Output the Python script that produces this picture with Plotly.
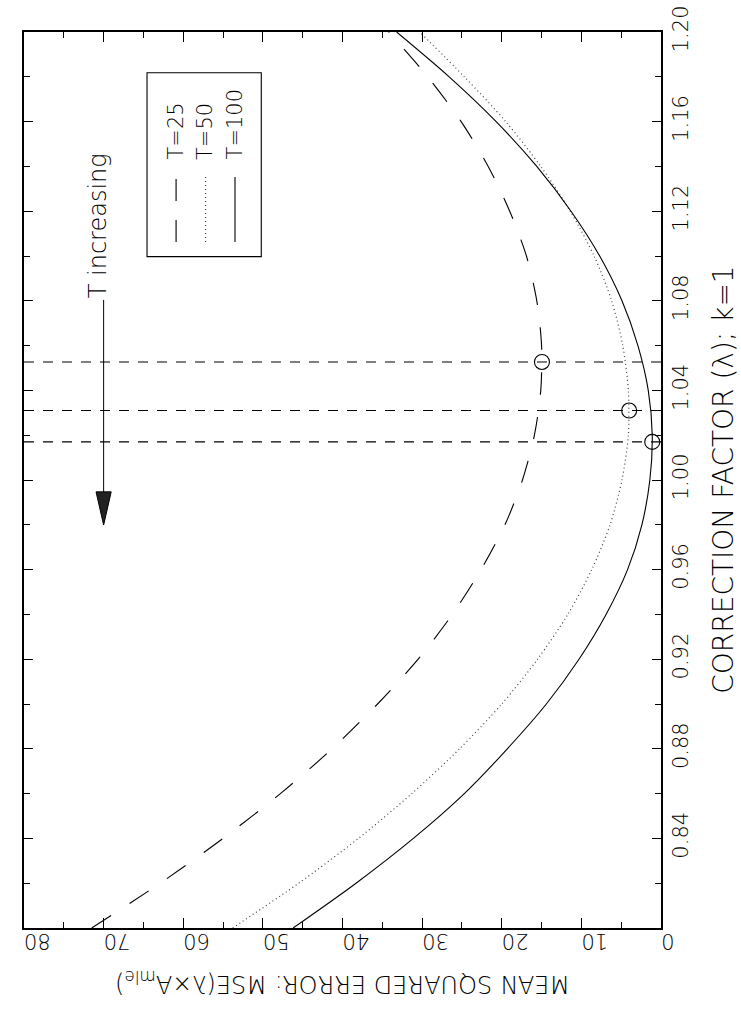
import plotly.graph_objects as go

# correction factor lambda (vertical axis in the picture)
lam = [0.80, 0.82, 0.84, 0.86, 0.88, 0.90, 0.92, 0.94, 0.96, 0.98, 1.00,
       1.02, 1.04, 1.06, 1.08, 1.10, 1.12, 1.14, 1.16, 1.18, 1.20]
# mean squared error
mse_T25 = [71.5, 62.9, 55.0, 47.8, 41.3, 35.6, 30.5, 26.2, 22.6, 19.6, 17.4,
           15.9, 15.1, 15.0, 15.6, 16.9, 19.0, 21.7, 25.1, 29.3, 34.2]
mse_T50 = [53.8, 45.5, 38.0, 31.3, 25.3, 20.0, 15.5, 11.7, 8.7, 6.4, 4.9,
           4.1, 4.1, 4.8, 6.2, 8.4, 11.4, 15.1, 19.5, 24.7, 30.3]
mse_T100 = [46.2, 38.3, 31.1, 24.7, 19.3, 14.4, 10.3, 6.9, 4.2, 2.4, 1.4,
            1.1, 1.6, 2.9, 4.9, 7.7, 11.3, 15.6, 20.7, 26.6, 33.2]
# minima
lam_min = [1.0527, 1.031, 1.017]
mse_min = [14.95, 4.0, 1.1]
series_names = ["T=25", "T=50", "T=100"]

y_ticks = [0.84, 0.88, 0.92, 0.96, 1.00, 1.04, 1.08, 1.12, 1.16, 1.20]
y_ticktext = ["0.84", "0.88", "0.92", "0.96", "1.00", "1.04", "1.08", "1.12", "1.16", "1.20"]
x_ticks = [0, 10, 20, 30, 40, 50, 60, 70, 80]

FONT = "DejaVu Sans"
W = 200
fig = go.Figure()

styles = [dict(dash="23px,22px", color="black", width=1.1),
          dict(dash="1px,3px", color="#444", width=1.2),
          dict(dash="solid", color="black", width=1.1)]

for vals, name, st in zip([mse_T25, mse_T50, mse_T100], series_names, styles):
    fig.add_trace(go.Scatter(x=vals, y=lam, mode="lines", name=name,
                             line=dict(shape="spline", smoothing=0.8, **st),
                             showlegend=False))

# horizontal dashed reference lines at the minima
for lm in lam_min:
    fig.add_trace(go.Scatter(x=[80, 0], y=[lm, lm], mode="lines",
                             line=dict(color="black", width=1.1, dash="10px,9px"),
                             showlegend=False))

fig.add_trace(go.Scatter(x=mse_min, y=lam_min, mode="markers",
                         marker=dict(symbol="circle-open", size=15,
                                     color="black", line=dict(width=1.1)),
                         showlegend=False))

# legend box (rotated)
fig.add_shape(type="rect", x0=64.55, x1=50.2, y0=1.0997, y1=1.1818,
              line=dict(color="black", width=1.1))
leg_x = [60.9, 57.2, 53.5]
for lx, name, st in zip(leg_x, series_names, styles):
    fig.add_shape(type="line", x0=lx, x1=lx, y0=1.1063, y1=1.1353,
                  line=dict(color=st["color"], width=st["width"],
                            dash=("22px,19px" if st["dash"].startswith("23") else st["dash"])))
    fig.add_annotation(x=lx, y=1.142, text=name, textangle=-90, showarrow=False,
                       xanchor="center", yanchor="bottom",
                       font=dict(family=FONT, size=21, color="black", weight=W))

# "T increasing" arrow (shaft + narrow arrowhead)
arr_x, arr_top, arr_tip = 70.0, 1.0804, 0.9799
head_len, head_half = 0.0148, 0.95
fig.add_shape(type="line", x0=arr_x, x1=arr_x, y0=arr_top, y1=arr_tip + head_len,
              line=dict(color="black", width=1))
fig.add_shape(type="path",
              path=(f"M {arr_x - head_half},{arr_tip + head_len} "
                    f"L {arr_x + head_half},{arr_tip + head_len} L {arr_x},{arr_tip} Z"),
              fillcolor="#222", line=dict(color="black", width=1))
fig.add_annotation(x=70.6, y=arr_top, text="T increasing", textangle=-90,
                   showarrow=False, xanchor="center", yanchor="bottom",
                   font=dict(family=FONT, size=24, color="black", weight=W))

# axis titles (rotated)
fig.add_annotation(x=1.097, y=0.5, xref="paper", yref="paper",
                   text="CORRECTION FACTOR (λ); k=1", textangle=-90, showarrow=False,
                   xanchor="center", yanchor="middle",
                   font=dict(family=FONT, size=28, color="black", weight=W))
fig.add_annotation(x=0.5, y=-0.061, xref="paper", yref="paper",
                   text="MEAN SQUARED ERROR: MSE(λ×A<sub>mle</sub>)", textangle=180,
                   showarrow=False, xanchor="center", yanchor="middle",
                   font=dict(family=FONT, size=24, color="black", weight=W))

fig.update_xaxes(range=[80, 0], tickvals=x_ticks, ticktext=[str(v) for v in x_ticks],
                 tickangle=180, ticks="inside", ticklen=10, tickwidth=1, tickcolor="black",
                 minor=dict(ticks="inside", dtick=5, ticklen=6, tickwidth=1, tickcolor="black"),
                 showline=True, linewidth=2.2, linecolor="black", mirror="ticks",
                 showgrid=False, zeroline=False, automargin=False,
                 ticklabeloverflow="allow",
                 tickfont=dict(family=FONT, size=21, color="black", weight=W))
fig.update_yaxes(range=[0.80, 1.20], side="right", tickvals=y_ticks, ticktext=y_ticktext,
                 tickangle=-90, ticks="inside", ticklen=9, tickwidth=1, tickcolor="black",
                 minor=dict(ticks="inside", dtick=0.02, tick0=0.80, ticklen=6, tickwidth=1,
                            tickcolor="black"),
                 showline=True, linewidth=2.2, linecolor="black", mirror="ticks",
                 showgrid=False, zeroline=False, automargin=False,
                 ticklabeloverflow="allow",
                 tickfont=dict(family=FONT, size=21, color="black", weight=W))

fig.update_layout(width=741, height=1012,
                  margin=dict(l=24, r=80, t=32, b=84, autoexpand=False),
                  plot_bgcolor="white", paper_bgcolor="white", showlegend=False)

# remove the default page margin so the figure fills the window exactly
fig.write_html("out.html", config={"displayModeBar": False},
               post_script="document.body.style.margin='0';"
                           "document.body.style.overflow='hidden';")
